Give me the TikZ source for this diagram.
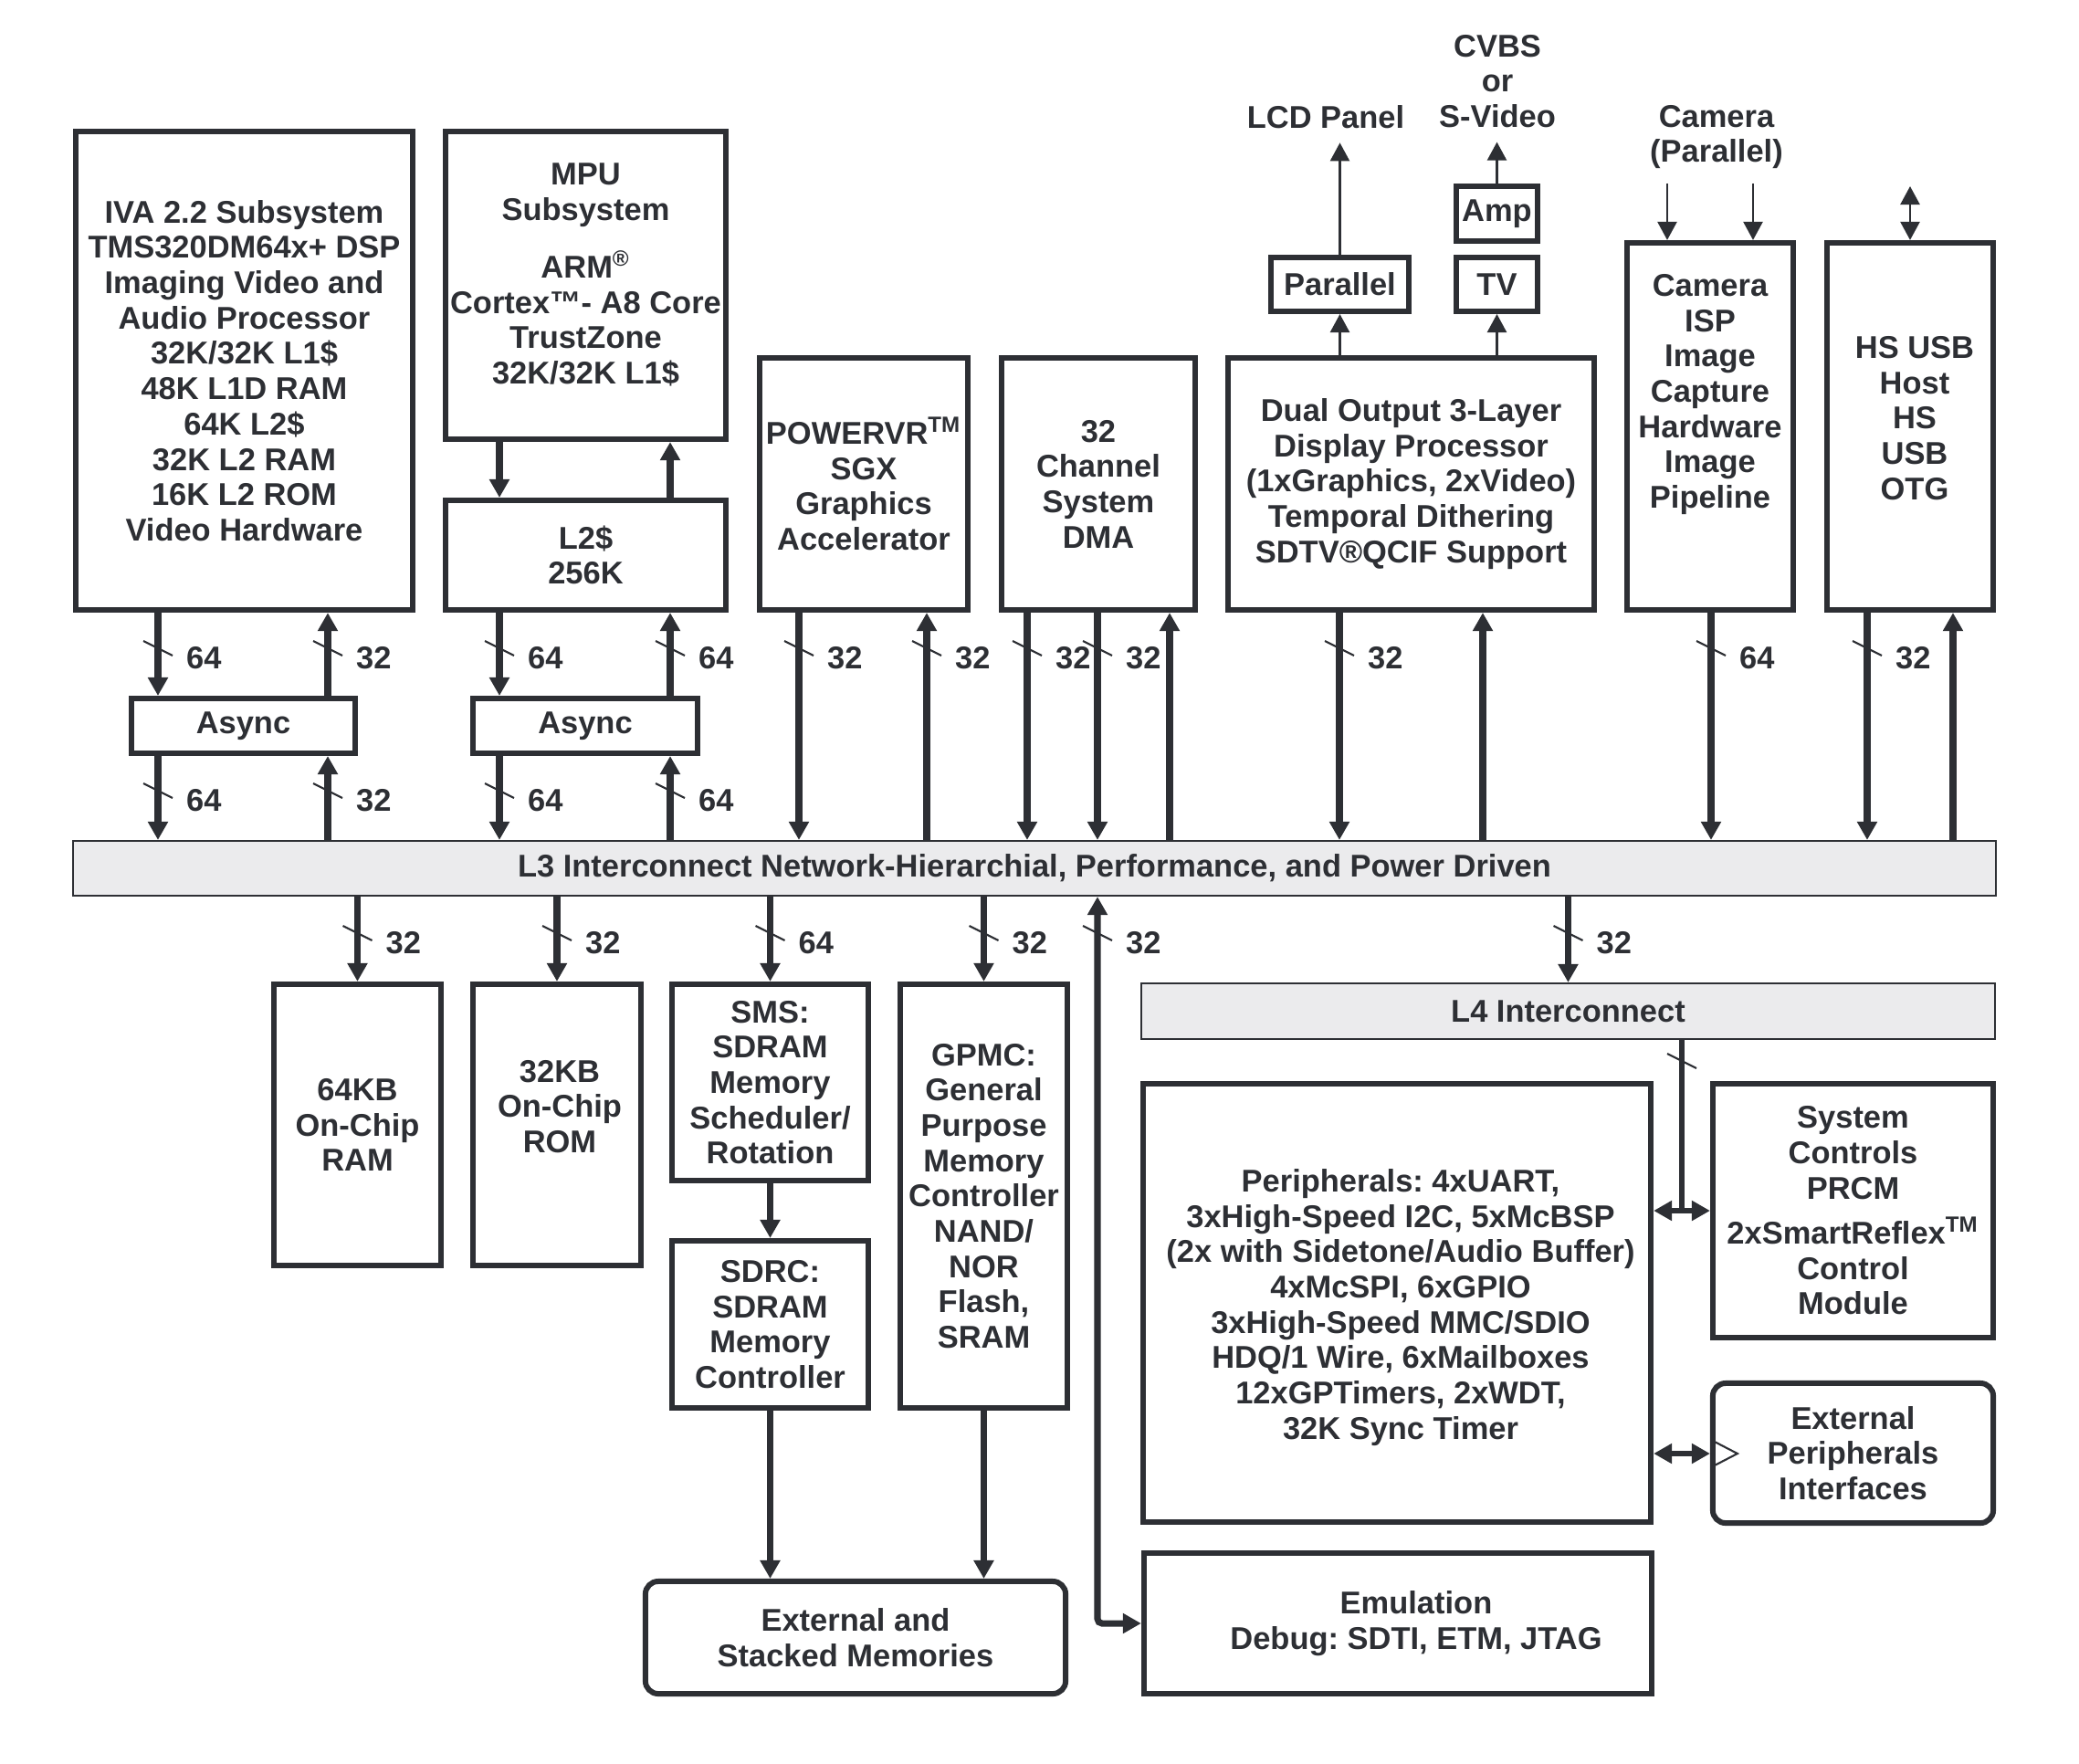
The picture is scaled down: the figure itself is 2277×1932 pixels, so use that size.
\documentclass[tikz,border=0pt]{standalone}
\usepackage{fontspec}
\setmainfont{Liberation Sans}
\frenchspacing
\usetikzlibrary{arrows.meta,calc}
\definecolor{ink}{RGB}{45,47,52}
\definecolor{bar}{RGB}{235,235,237}
\begin{document}
\begin{tikzpicture}[x=0.01cm,y=-0.01cm,
  >={Triangle[length=5.7pt,width=6pt]},
  every node/.style={font=\fontsize{9.8pt}{11pt}\selectfont\bfseries, text=ink, align=center, inner sep=1pt},
  blk/.style={draw=ink, line width=1.7pt, fill=white},
  rblk/.style={blk, rounded corners=0.14cm},
  busbar/.style={draw=ink, line width=0.6pt, fill=bar},
  ext/.style={inner sep=0.15cm},
  bus/.style={draw=ink, line width=2pt, ->},
  bustee/.style={draw=ink, line width=1.6pt},
  thinbus/.style={draw=ink, line width=0.65pt, ->},
  tick/.style={draw=ink, line width=0.6pt},
]

\newcommand\wid[4]{% bus width mark
  \draw[tick] ($(#2 |- #3)+(-16,-8)$) -- ($(#2 |- #3)+(16,8)$);
  \node[anchor=west] (#1) at ($(#2 |- #3)+(27,11)$) {#4};}

\useasboundingbox (0,0) rectangle (2277,1932);

% top row
\node[blk, minimum width=3.69cm, minimum height=5.24cm] (iva) at (267.5,406) {IVA 2.2 Subsystem\\TMS320DM64x+ DSP\\Imaging Video and\\Audio Processor\\32K/32K L1\$\\48K L1D RAM\\64K L2\$\\32K L2 RAM\\16K L2 ROM\\Video Hardware};
\node[blk, minimum width=3.07cm, minimum height=3.37cm] (mpu) at (641.5,312.5) {};
\node (mputxt) at (641.5,301) {MPU\\Subsystem\\[7pt]ARM\textsuperscript{\textregistered}\\Cortex™- A8 Core\\TrustZone\\32K/32K L1\$};
\node[blk, minimum width=3.07cm, minimum height=1.2cm] (l2) at (641.5,608) {L2\$\\256K};
\node[blk, minimum width=2.45cm, minimum height=0.6cm] (asynca) at (266.5,795) {Async};
\node[blk, minimum width=2.46cm, minimum height=0.6cm] (asyncb) at (641,795) {Async};
\node[blk, minimum width=2.28cm, minimum height=2.76cm] (sgx) at (946,530) {POWERVR\textsuperscript{TM}\\SGX\\Graphics\\Accelerator};
\node[blk, minimum width=2.12cm, minimum height=2.76cm] (dma) at (1203,530) {32\\Channel\\System\\DMA};
\node[blk, minimum width=4.01cm, minimum height=2.76cm] (dss) at (1545.5,530) {Dual Output 3-Layer\\Display Processor\\(1xGraphics, 2xVideo)\\Temporal Dithering\\SDTV®QCIF Support};
\node[blk, minimum width=1.51cm, minimum height=0.59cm] (par) at (1467.5,311.5) {Parallel};
\node[blk, minimum width=0.89cm, minimum height=0.59cm] (tv) at (1639.5,311.5) {TV};
\node[blk, minimum width=0.89cm, minimum height=0.6cm] (amp) at (1639.5,234) {Amp};
\node[blk, minimum width=1.82cm, minimum height=4.02cm] (isp) at (1873,467) {};
\node (isptxt) at (1873,432) {Camera\\ISP\\Image\\Capture\\Hardware\\Image\\Pipeline};
\node[blk, minimum width=1.82cm, minimum height=4.02cm] (usb) at (2092,467) {};
\node (usbtxt) at (2097,458) {HS USB\\Host\\HS\\USB\\OTG};

\node[ext] (lcd) at (1452,128) {LCD Panel};
\node[ext] (cvbs) at (1640,89) {CVBS\\or\\S-Video};
\node[ext] (cam) at (1880,150) {Camera\\(Parallel)};

\node[busbar, minimum width=21.04cm, minimum height=0.6cm] (l3) at (1133,951) {L3 Interconnect Network-Hierarchial, Performance, and Power Driven};

% bottom row
\node[blk, minimum width=1.83cm, minimum height=3.08cm] (ram) at (391.5,1232) {64KB\\On-Chip\\RAM};
\node[blk, minimum width=1.84cm, minimum height=3.08cm] (rom) at (610,1232) {};
\node (romtxt) at (613,1212) {32KB\\On-Chip\\ROM};
\node[blk, minimum width=2.15cm, minimum height=2.15cm] (sms) at (843.5,1185.5) {SMS:\\SDRAM\\Memory\\Scheduler/\\Rotation};
\node[blk, minimum width=2.15cm, minimum height=1.83cm] (sdrc) at (843.5,1450.5) {SDRC:\\SDRAM\\Memory\\Controller};
\node[blk, minimum width=1.83cm, minimum height=4.64cm] (gpmc) at (1077.5,1310) {GPMC:\\General\\Purpose\\Memory\\Controller\\NAND/\\NOR\\Flash,\\SRAM};
\node[rblk, minimum width=4.6cm, minimum height=1.23cm] (extmem) at (937,1793.5) {External and\\Stacked Memories};
\node[busbar, minimum width=9.35cm, minimum height=0.61cm] (l4) at (1717.5,1107.5) {L4 Interconnect};
\node[blk, minimum width=5.56cm, minimum height=4.8cm] (periph) at (1530,1427) {};
\node (periphtxt) at (1534,1432) {Peripherals: 4xUART,\\3xHigh-Speed I2C, 5xMcBSP\\(2x with Sidetone/Audio Buffer)\\4xMcSPI, 6xGPIO\\3xHigh-Speed MMC/SDIO\\HDQ/1 Wire, 6xMailboxes\\12xGPTimers, 2xWDT,\\32K Sync Timer};
\node[blk, minimum width=3.07cm, minimum height=2.78cm] (sysctl) at (2029.5,1326) {System\\Controls\\PRCM\\[3pt]2xSmartReflex\textsuperscript{TM}\\Control\\Module};
\node[rblk, minimum width=3.07cm, minimum height=1.53cm] (extper) at (2029.5,1591.5) {External\\Peripherals\\Interfaces};
\node[blk, minimum width=5.56cm, minimum height=1.54cm] (emu) at (1531,1778) {};
\node (emutxt) at (1551,1778) {Emulation\\Debug: SDTI, ETM, JTAG};

% bus lines
\coordinate (xa) at (173,0);
\coordinate (xb) at (359,0);
\coordinate (xc) at (547,0);
\coordinate (xd) at (734,0);
\coordinate (xe) at (875,0);
\coordinate (xf) at (1015,0);
\coordinate (xg) at (1125,0);
\coordinate (xh) at (1202,0);
\coordinate (xi) at (1281,0);
\coordinate (xj) at (1467,0);
\coordinate (xk) at (1624,0);
\coordinate (xl) at (1874,0);
\coordinate (xm) at (2045,0);
\coordinate (xn) at (2139,0);
\coordinate (ra) at (0,710);
\coordinate (rb) at (0,866);
\coordinate (rc) at (0,1022);

\draw[bus] (iva.south -| xa) -- (asynca.north -| xa);
\draw[bus] (asynca.north -| xb) -- (iva.south -| xb);
\draw[bus] (asynca.south -| xa) -- (l3.north -| xa);
\draw[bus] (l3.north -| xb) -- (asynca.south -| xb);
\draw[bus] (mpu.south -| xc) -- (l2.north -| xc);
\draw[bus] (l2.north -| xd) -- (mpu.south -| xd);
\draw[bus] (l2.south -| xc) -- (asyncb.north -| xc);
\draw[bus] (asyncb.north -| xd) -- (l2.south -| xd);
\draw[bus] (asyncb.south -| xc) -- (l3.north -| xc);
\draw[bus] (l3.north -| xd) -- (asyncb.south -| xd);
\draw[bus] (sgx.south -| xe) -- (l3.north -| xe);
\draw[bus] (l3.north -| xf) -- (sgx.south -| xf);
\draw[bus] (dma.south -| xg) -- (l3.north -| xg);
\draw[bus] (dma.south -| xh) -- (l3.north -| xh);
\draw[bus] (l3.north -| xi) -- (dma.south -| xi);
\draw[bus] (dss.south -| xj) -- (l3.north -| xj);
\draw[bus] (l3.north -| xk) -- (dss.south -| xk);
\draw[bus] (isp.south -| xl) -- (l3.north -| xl);
\draw[bus] (usb.south -| xm) -- (l3.north -| xm);
\draw[bus] (l3.north -| xn) -- (usb.south -| xn);

\draw[thinbus] (dss.north -| par.south) -- (par.south);
\draw[thinbus] (par.north) -- (par.north |- lcd.south);
\draw[thinbus] (dss.north -| tv.south) -- (tv.south);
\draw[thinbus] (amp.north) -- (amp.north |- cvbs.south);
\coordinate (xq) at (1826,0);
\coordinate (xr) at (1920,0);
\draw[thinbus] (cam.south -| xq) -- (isp.north -| xq);
\draw[thinbus] (cam.south -| xr) -- (isp.north -| xr);
\coordinate (usbio) at (2092,204);
\draw[thinbus, <->] (usbio) -- (usbio |- usb.north);

\draw[bus] (l3.south -| ram.north) -- (ram.north);
\draw[bus] (l3.south -| rom.north) -- (rom.north);
\draw[bus] (l3.south -| sms.north) -- (sms.north);
\draw[bus] (l3.south -| gpmc.north) -- (gpmc.north);
\draw[bus] (l3.south -| l4.north) -- (l4.north);
\draw[bus] (sms.south) -- (sdrc.north);
\draw[bus] (sdrc.south) -- (sdrc.south |- extmem.north);
\draw[bus] (gpmc.south) -- (gpmc.south |- extmem.north);
\draw[bus, <->, rounded corners=0.05cm] (emu.west) -| (l3.south -| xh);

\coordinate (tee) at (1842,1326);
\draw[bustee] (l4.south -| tee) -- (tee);
\draw[bustee, <->] (periph.east |- tee) -- (sysctl.west |- tee);
\draw[tick] (1826,1154) -- (1858,1170);
\coordinate (pe) at (0,1592);
\draw[bustee, <->] (periph.east |- pe) -- (extper.west |- pe);
\draw[tick] ($(extper.west |- pe)+(3,-14)$) -- ++(27,14) -- ++(-27,14);

% bus widths
\wid{wa1}{xa}{ra}{64}
\wid{wb1}{xb}{ra}{32}
\wid{wc1}{xc}{ra}{64}
\wid{wd1}{xd}{ra}{64}
\wid{we}{xe}{ra}{32}
\wid{wf}{xf}{ra}{32}
\wid{wg}{xg}{ra}{32}
\wid{wh}{xh}{ra}{32}
\wid{wj}{xj}{ra}{32}
\wid{wl}{xl}{ra}{64}
\wid{wm}{xm}{ra}{32}
\wid{wa2}{xa}{rb}{64}
\wid{wb2}{xb}{rb}{32}
\wid{wc2}{xc}{rb}{64}
\wid{wd2}{xd}{rb}{64}
\wid{wram}{ram.north}{rc}{32}
\wid{wrom}{rom.north}{rc}{32}
\wid{wsms}{sms.north}{rc}{64}
\wid{wgpmc}{gpmc.north}{rc}{32}
\wid{wemu}{xh}{rc}{32}
\wid{wlfour}{l4.north}{rc}{32}

\end{tikzpicture}
\end{document}
